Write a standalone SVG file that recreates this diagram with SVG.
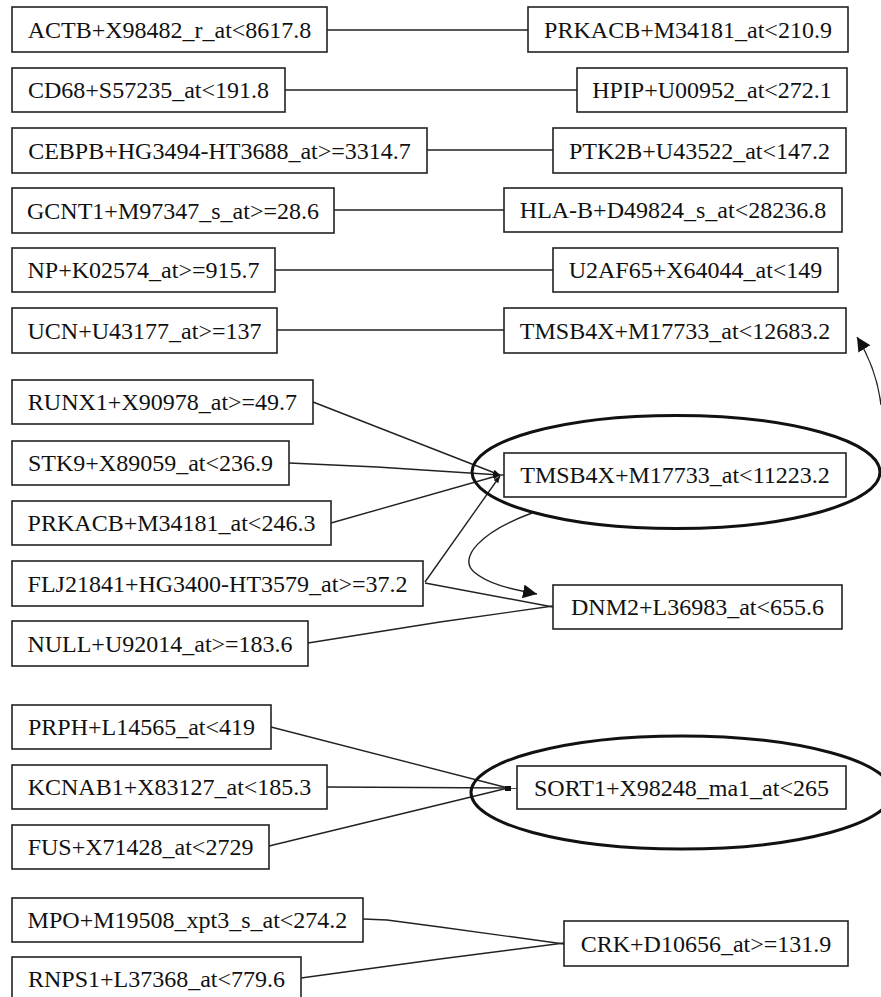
<svg xmlns="http://www.w3.org/2000/svg" width="881" height="997" viewBox="0 0 881 997">
<style>
.box{fill:#fff;stroke:#222;stroke-width:1.6}
.ell{fill:none;stroke:#111;stroke-width:3}
.lbl{font-family:"Liberation Serif","Times New Roman",serif;font-size:24px;fill:#111;text-anchor:middle}
.ln{fill:none;stroke:#222;stroke-width:1.4}
</style>
<defs>
<marker id="ah" viewBox="0 0 10 10" refX="10" refY="5" markerWidth="14" markerHeight="14" markerUnits="userSpaceOnUse" orient="auto">
<path d="M0,0 L10,5 L0,10 z" fill="#111"/>
</marker>
<marker id="sm" viewBox="0 0 10 10" refX="10" refY="5" markerWidth="7" markerHeight="7" markerUnits="userSpaceOnUse" orient="auto">
<path d="M0,1 L10,5 L0,9 z" fill="#111"/>
</marker>
</defs>
<rect width="881" height="997" fill="#fff"/>
<g id="connectors">
<line class="ln" x1="327" y1="30" x2="528" y2="30"/>
<line class="ln" x1="285" y1="90" x2="577" y2="90"/>
<line class="ln" x1="427" y1="150" x2="553" y2="150"/>
<line class="ln" x1="334" y1="210" x2="504" y2="210"/>
<line class="ln" x1="275" y1="270" x2="553" y2="270"/>
<line class="ln" x1="277" y1="330" x2="504" y2="330"/>
<path class="ln" d="M313,402 L500,475" marker-end="url(#sm)"/>
<path class="ln" d="M289,463 L377,467 L500,475" marker-end="url(#sm)"/>
<path class="ln" d="M331,523 L500,475" marker-end="url(#sm)"/>
<path class="ln" d="M425,582 L500,476" marker-end="url(#sm)"/>
<line class="ln" x1="500" y1="475" x2="504" y2="475"/>
<path class="ln" d="M425,583 L553,607"/>
<path class="ln" d="M308,643 L440,622 L553,606"/>
<path class="ln" d="M532,513 C480,532 458,558 474,572 C488,584 510,589 537,594" marker-end="url(#ah)"/>
<path class="ln" d="M881,405 C878,380 870,358 857,337" marker-end="url(#ah)"/>
<path class="ln" d="M271,727 L508,788"/>
<path class="ln" d="M327,787 L517,788"/>
<path class="ln" d="M269,846 L508,788"/>
<rect x="505" y="786" width="6" height="5" fill="#111"/>
<path class="ln" d="M363,919 L387,920 L440,927 L564,944"/>
<path class="ln" d="M301,978 L440,959 L564,943"/>
</g>
<g id="n_actb"><rect class="box" x="12" y="7" width="315" height="45"/><text class="lbl" x="169.5" y="37.5">ACTB+X98482_r_at&lt;8617.8</text></g>
<g id="n_cd68"><rect class="box" x="12" y="68" width="273" height="44"/><text class="lbl" x="148.5" y="98">CD68+S57235_at&lt;191.8</text></g>
<g id="n_cebpb"><rect class="box" x="12" y="128" width="415" height="45"/><text class="lbl" x="219.5" y="158.5">CEBPB+HG3494-HT3688_at&gt;=3314.7</text></g>
<g id="n_gcnt1"><rect class="box" x="12" y="188" width="322" height="45"/><text class="lbl" x="173" y="218.5">GCNT1+M97347_s_at&gt;=28.6</text></g>
<g id="n_np"><rect class="box" x="12" y="248" width="263" height="44"/><text class="lbl" x="143.5" y="278">NP+K02574_at&gt;=915.7</text></g>
<g id="n_ucn"><rect class="box" x="12" y="308" width="265" height="45"/><text class="lbl" x="144.5" y="338.5">UCN+U43177_at&gt;=137</text></g>
<g id="n_runx1"><rect class="box" x="12" y="380" width="301" height="44"/><text class="lbl" x="162.5" y="410">RUNX1+X90978_at&gt;=49.7</text></g>
<g id="n_stk9"><rect class="box" x="12" y="441" width="277" height="44"/><text class="lbl" x="150.5" y="471">STK9+X89059_at&lt;236.9</text></g>
<g id="n_prkacb2"><rect class="box" x="12" y="501" width="319" height="44"/><text class="lbl" x="171.5" y="531">PRKACB+M34181_at&lt;246.3</text></g>
<g id="n_flj"><rect class="box" x="12" y="561" width="411" height="45"/><text class="lbl" x="217.5" y="591.5">FLJ21841+HG3400-HT3579_at&gt;=37.2</text></g>
<g id="n_null"><rect class="box" x="12" y="621" width="296" height="45"/><text class="lbl" x="160" y="651.5">NULL+U92014_at&gt;=183.6</text></g>
<g id="n_prph"><rect class="box" x="12" y="705" width="259" height="44"/><text class="lbl" x="141.5" y="735">PRPH+L14565_at&lt;419</text></g>
<g id="n_kcnab1"><rect class="box" x="12" y="765" width="315" height="44"/><text class="lbl" x="169.5" y="795">KCNAB1+X83127_at&lt;185.3</text></g>
<g id="n_fus"><rect class="box" x="12" y="825" width="257" height="44"/><text class="lbl" x="140.5" y="855">FUS+X71428_at&lt;2729</text></g>
<g id="n_mpo"><rect class="box" x="12" y="898" width="351" height="44"/><text class="lbl" x="187.5" y="928">MPO+M19508_xpt3_s_at&lt;274.2</text></g>
<g id="n_rnps1"><rect class="box" x="12" y="957" width="289" height="44"/><text class="lbl" x="156.5" y="987">RNPS1+L37368_at&lt;779.6</text></g>
<g id="n_prkacb1"><rect class="box" x="528" y="7" width="320" height="45"/><text class="lbl" x="688" y="37.5">PRKACB+M34181_at&lt;210.9</text></g>
<g id="n_hpip"><rect class="box" x="577" y="68" width="270" height="44"/><text class="lbl" x="712" y="98">HPIP+U00952_at&lt;272.1</text></g>
<g id="n_ptk2b"><rect class="box" x="553" y="128" width="293" height="45"/><text class="lbl" x="699.5" y="158.5">PTK2B+U43522_at&lt;147.2</text></g>
<g id="n_hlab"><rect class="box" x="504" y="188" width="338" height="44"/><text class="lbl" x="673" y="218">HLA-B+D49824_s_at&lt;28236.8</text></g>
<g id="n_u2af65"><rect class="box" x="553" y="248" width="285" height="44"/><text class="lbl" x="695.5" y="278">U2AF65+X64044_at&lt;149</text></g>
<g id="n_tmsb1"><rect class="box" x="504" y="308" width="342" height="45"/><text class="lbl" x="675" y="338.5">TMSB4X+M17733_at&lt;12683.2</text></g>
<g id="n_tmsb2"><ellipse class="ell" cx="676" cy="472" rx="204" ry="56.5"/><rect class="box" x="504" y="453" width="342" height="44"/><text class="lbl" x="675" y="483">TMSB4X+M17733_at&lt;11223.2</text></g>
<g id="n_dnm2"><rect class="box" x="553" y="585" width="289" height="44"/><text class="lbl" x="697.5" y="615">DNM2+L36983_at&lt;655.6</text></g>
<g id="n_sort1"><ellipse class="ell" cx="681.5" cy="792.5" rx="210.5" ry="56.5"/><rect class="box" x="517" y="766" width="329" height="43"/><text class="lbl" x="681.5" y="795.5">SORT1+X98248_ma1_at&lt;265</text></g>
<g id="n_crk"><rect class="box" x="564" y="921" width="284" height="45"/><text class="lbl" x="706" y="951.5">CRK+D10656_at&gt;=131.9</text></g>
</svg>
